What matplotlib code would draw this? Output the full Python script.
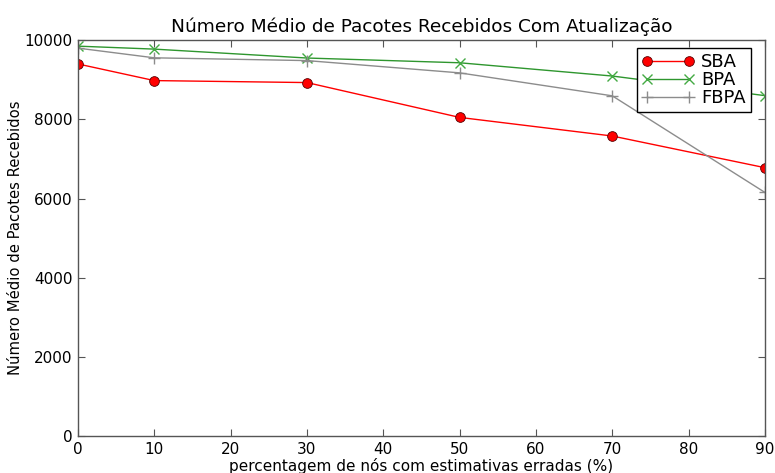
import matplotlib
matplotlib.use("Agg")
import matplotlib.pyplot as plt

x_vals = [0, 10, 30, 50, 70, 90]
sba = [9400, 8980, 8930, 8050, 7580, 6780]
bpa = [9850, 9775, 9550, 9430, 9095, 8600]
fbpa = [9800, 9555, 9485, 9175, 8595, 6155]

x_ticks = [0, 10, 20, 30, 40, 50, 60, 70, 80, 90]
y_ticks = [0, 2000, 4000, 6000, 8000, 10000]

plt.rcParams['font.family'] = ['DejaVu Sans']
plt.rcParams['xtick.direction'] = 'in'
plt.rcParams['ytick.direction'] = 'in'

fig = plt.figure(figsize=(7.75, 4.73), dpi=100)
ax = fig.add_axes([0.1006, 0.078, 0.8864, 0.837])

ax.plot(x_vals, sba, color='#ff0000', marker='o', markersize=7,
        markerfacecolor='#ff0000', markeredgecolor='#550000',
        markeredgewidth=0.6, linewidth=1.0, label='SBA')
ax.plot(x_vals, bpa, color='#2e962e', marker='x', markersize=7,
        markeredgecolor='#44aa44', linewidth=1.0, label='BPA')
ax.plot(x_vals, fbpa, color='#8c8c8c', marker='+', markersize=8,
        markeredgecolor='#8c8c8c', linewidth=1.0, label='FBPA')

ax.set_xlim(0, 90)
ax.set_ylim(0, 10000)
ax.set_xticks(x_ticks)
ax.set_yticks(y_ticks)
ax.tick_params(axis='both', which='both', top=True, right=True,
               labelsize=11, length=5, width=0.8, color='#555555', pad=4)
for sp in ax.spines.values():
    sp.set_color('#555555')
    sp.set_linewidth(1.0)

ax.set_title('Número Médio de Pacotes Recebidos Com Atualização',
             fontsize=13.3, pad=6)
ax.set_xlabel('percentagem de nós com estimativas erradas (%)', fontsize=11,
              labelpad=1)
ax.set_ylabel('Número Médio de Pacotes Recebidos', fontsize=10.6, labelpad=1)

leg = ax.legend(loc='upper right', bbox_to_anchor=(0.9795, 0.98),
                numpoints=2, fontsize=13, fancybox=False, framealpha=1,
                borderpad=0.28, labelspacing=0.0, handlelength=2.9,
                handletextpad=0.4, borderaxespad=0.0)
leg.get_frame().set_edgecolor('black')
leg.get_frame().set_linewidth(1.0)

fig.savefig('out.png', dpi=100)
